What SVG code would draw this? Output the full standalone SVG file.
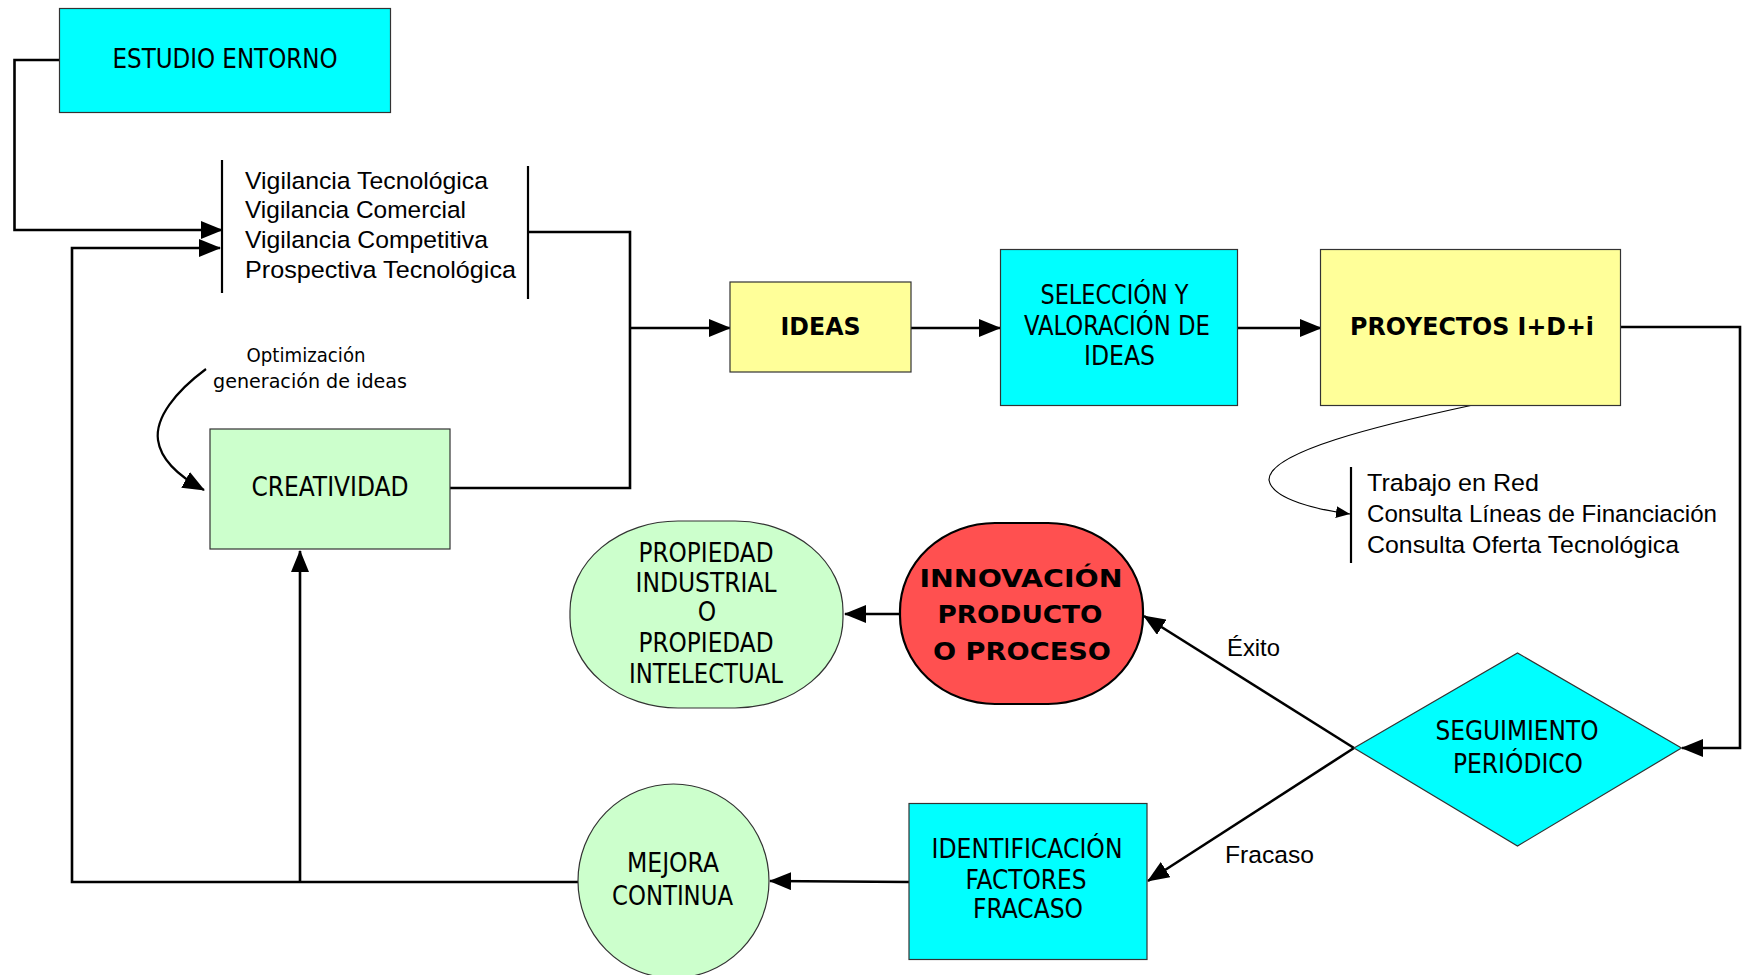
<svg xmlns="http://www.w3.org/2000/svg" width="1742" height="975" viewBox="0 0 1742 975">
  <style>
    .box { stroke: #333333; stroke-width: 1.2; }
    .cyan { fill: #00FFFF; }
    .yellow { fill: #FFFF99; }
    .green { fill: #CCFFCC; }
    .red { fill: #FF5050; stroke: #000000; stroke-width: 2.2; }
    .t { font-family: "DejaVu Sans Condensed", "DejaVu Sans", sans-serif; font-size: 26px; fill: #000; text-anchor: middle; }
    .tb { font-family: "DejaVu Sans", sans-serif; font-size: 24px; font-weight: bold; fill: #000; text-anchor: middle; }
    .list { font-family: "Liberation Sans", Arial, sans-serif; font-size: 24.5px; fill: #000; }
    .lbl { font-family: "Liberation Sans", Arial, sans-serif; font-size: 24.5px; fill: #000; }
    .small { font-family: "DejaVu Sans", sans-serif; font-size: 19.5px; fill: #000; text-anchor: middle; }
    .wire { fill: none; stroke: #000; stroke-width: 2.6; }
    .bar { fill: none; stroke: #000; stroke-width: 2.2; }
    .thin { fill: none; stroke: #000; stroke-width: 1.2; }
  </style>
  <defs>
    <marker id="arr" markerUnits="userSpaceOnUse" markerWidth="22" markerHeight="18" refX="21" refY="9" orient="auto">
      <path d="M0,0 L22,9 L0,18 z" fill="#000"/>
    </marker>
    <marker id="arrSm" markerUnits="userSpaceOnUse" markerWidth="14" markerHeight="12" refX="14" refY="6" orient="auto">
      <path d="M0,0 L14,6 L0,12 z" fill="#000"/>
    </marker>
  </defs>

  <rect width="1742" height="975" fill="#FFFFFF"/>

  <!-- connectors -->
  <g id="connectors">
    <!-- ESTUDIO ENTORNO to the watch list -->
    <polyline class="wire" points="60,60 14.5,60 14.5,230 222,230" marker-end="url(#arr)"/>
    <!-- feedback loop from MEJORA CONTINUA -->
    <polyline class="wire" points="578,882 72,882 72,248 220,248" marker-end="url(#arr)"/>
    <line class="wire" x1="300" y1="882" x2="300" y2="551" marker-end="url(#arr)"/>
    <!-- watch list and creativity into IDEAS -->
    <polyline class="wire" points="528,232 630,232 630,488 450,488"/>
    <line class="wire" x1="630" y1="328" x2="730" y2="328" marker-end="url(#arr)"/>
    <line class="wire" x1="911" y1="328" x2="1000" y2="328" marker-end="url(#arr)"/>
    <line class="wire" x1="1238" y1="328" x2="1321" y2="328" marker-end="url(#arr)"/>
    <!-- PROYECTOS to SEGUIMIENTO -->
    <polyline class="wire" points="1621,327 1740,327 1740,748 1682,748" marker-end="url(#arr)"/>
    <!-- outcomes -->
    <line class="wire" x1="1354" y1="748" x2="1144" y2="616" marker-end="url(#arr)"/>
    <line class="wire" x1="1354" y1="748" x2="1148" y2="881" marker-end="url(#arr)"/>
    <line class="wire" x1="900" y1="614" x2="845" y2="614" marker-end="url(#arr)"/>
    <line class="wire" x1="909" y1="882" x2="770" y2="881" marker-end="url(#arr)"/>
    <!-- curved annotations -->
    <path class="wire" style="stroke-width:2.2" d="M206,369 C175,392 155,418 158,440 C161,462 182,478 204,490" marker-end="url(#arr)"/>
    <path class="thin" d="M1473,405 C1380,425 1268,452 1269,480 C1272,500 1320,510 1350,514" marker-end="url(#arrSm)"/>
  </g>

  <g id="estudio-entorno">
    <rect class="box cyan" x="59.5" y="8.5" width="331" height="104"/>
    <text class="t" x="225" y="68" textLength="225" lengthAdjust="spacingAndGlyphs">ESTUDIO ENTORNO</text>
  </g>

  <g id="vigilancia">
    <line class="bar" x1="222" y1="160" x2="222" y2="293"/>
    <line class="bar" x1="528" y1="166" x2="528" y2="299"/>
    <text class="list" x="245" y="189" textLength="243" lengthAdjust="spacingAndGlyphs">Vigilancia Tecnológica</text>
    <text class="list" x="245" y="218" textLength="221" lengthAdjust="spacingAndGlyphs">Vigilancia Comercial</text>
    <text class="list" x="245" y="248" textLength="243" lengthAdjust="spacingAndGlyphs">Vigilancia Competitiva</text>
    <text class="list" x="245" y="278" textLength="271" lengthAdjust="spacingAndGlyphs">Prospectiva Tecnológica</text>
  </g>

  <g id="optimizacion">
    <text class="small" x="306" y="362" textLength="119" lengthAdjust="spacingAndGlyphs">Optimización</text>
    <text class="small" x="310" y="388" textLength="194" lengthAdjust="spacingAndGlyphs">generación de ideas</text>
  </g>

  <g id="creatividad">
    <rect class="box green" x="210" y="429" width="240" height="120"/>
    <text class="t" x="330" y="496" textLength="157" lengthAdjust="spacingAndGlyphs">CREATIVIDAD</text>
  </g>

  <g id="ideas">
    <rect class="box yellow" x="730" y="282" width="181" height="90"/>
    <text class="tb" x="820.5" y="335" textLength="80" lengthAdjust="spacingAndGlyphs">IDEAS</text>
  </g>

  <g id="seleccion">
    <rect class="box cyan" x="1000.5" y="249.5" width="237" height="156"/>
    <text class="t" x="1114.5" y="304" textLength="148" lengthAdjust="spacingAndGlyphs">SELECCIÓN Y</text>
    <text class="t" x="1117" y="335" textLength="186" lengthAdjust="spacingAndGlyphs">VALORACIÓN DE</text>
    <text class="t" x="1119.5" y="365" textLength="71" lengthAdjust="spacingAndGlyphs">IDEAS</text>
  </g>

  <g id="proyectos">
    <rect class="box yellow" x="1320.5" y="249.5" width="300" height="156"/>
    <text class="tb" x="1472" y="335" textLength="244" lengthAdjust="spacingAndGlyphs">PROYECTOS I+D+i</text>
  </g>

  <g id="red">
    <line class="bar" x1="1351" y1="467" x2="1351" y2="563"/>
    <text class="list" x="1367" y="491" textLength="172" lengthAdjust="spacingAndGlyphs">Trabajo en Red</text>
    <text class="list" x="1367" y="522" textLength="350" lengthAdjust="spacingAndGlyphs">Consulta Líneas de Financiación</text>
    <text class="list" x="1367" y="553" textLength="312" lengthAdjust="spacingAndGlyphs">Consulta Oferta Tecnológica</text>
  </g>

  <g id="propiedad">
    <rect class="box green" x="570" y="521" width="273" height="187" rx="108" ry="90"/>
    <text class="t" x="706" y="562" textLength="135" lengthAdjust="spacingAndGlyphs">PROPIEDAD</text>
    <text class="t" x="706" y="592" textLength="141" lengthAdjust="spacingAndGlyphs">INDUSTRIAL</text>
    <text class="t" x="707" y="621">O</text>
    <text class="t" x="706" y="652" textLength="135" lengthAdjust="spacingAndGlyphs">PROPIEDAD</text>
    <text class="t" x="706" y="683" textLength="154" lengthAdjust="spacingAndGlyphs">INTELECTUAL</text>
  </g>

  <g id="innovacion">
    <rect class="red" x="900" y="523" width="243" height="181" rx="95" ry="88"/>
    <text class="tb" x="1021" y="587" textLength="203" lengthAdjust="spacingAndGlyphs">INNOVACIÓN</text>
    <text class="tb" x="1020" y="623" textLength="165" lengthAdjust="spacingAndGlyphs">PRODUCTO</text>
    <text class="tb" x="1022" y="660" textLength="178" lengthAdjust="spacingAndGlyphs">O PROCESO</text>
  </g>

  <g id="seguimiento">
    <polygon class="box cyan" points="1354,748 1517.5,653 1681.5,748 1517.5,846"/>
    <text class="t" x="1517" y="740" textLength="163" lengthAdjust="spacingAndGlyphs">SEGUIMIENTO</text>
    <text class="t" x="1518" y="773" textLength="130" lengthAdjust="spacingAndGlyphs">PERIÓDICO</text>
  </g>

  <g id="labels">
    <text class="lbl" x="1227" y="656" textLength="53" lengthAdjust="spacingAndGlyphs">Éxito</text>
    <text class="lbl" x="1225" y="863" textLength="89" lengthAdjust="spacingAndGlyphs">Fracaso</text>
  </g>

  <g id="identificacion">
    <rect class="box cyan" x="909" y="803.5" width="238" height="156"/>
    <text class="t" x="1027" y="858" textLength="191" lengthAdjust="spacingAndGlyphs">IDENTIFICACIÓN</text>
    <text class="t" x="1026" y="889" textLength="121" lengthAdjust="spacingAndGlyphs">FACTORES</text>
    <text class="t" x="1028" y="918" textLength="110" lengthAdjust="spacingAndGlyphs">FRACASO</text>
  </g>

  <g id="mejora">
    <ellipse class="box green" cx="673.5" cy="881" rx="95.5" ry="97"/>
    <text class="t" x="673" y="872" textLength="92" lengthAdjust="spacingAndGlyphs">MEJORA</text>
    <text class="t" x="672.5" y="905" textLength="121" lengthAdjust="spacingAndGlyphs">CONTINUA</text>
  </g>
</svg>
